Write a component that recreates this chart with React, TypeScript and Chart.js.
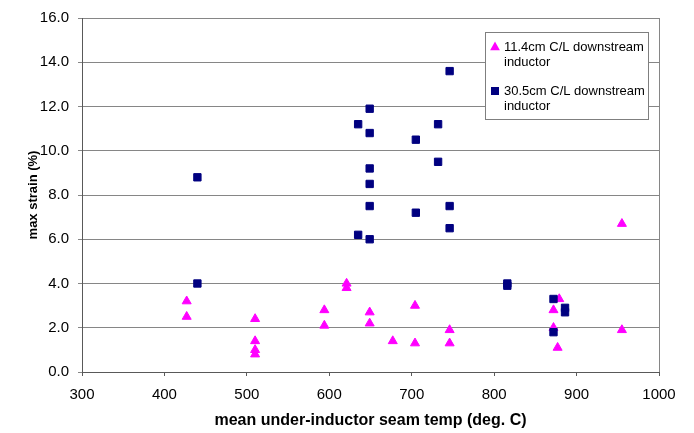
import React, { useEffect, useRef } from "react";
import { Chart, registerables } from "chart.js";

Chart.register(...registerables);

// ---- data ----
const seriesNames = ["11.4cm C/L downstream inductor", "30.5cm C/L downstream inductor"];
const seriesColors = ["#FF00FF", "#000080"];

const tempsA = [427, 427, 510, 510, 510, 510, 594, 594, 621, 621, 649, 649, 677, 704, 704, 746, 746, 872, 872, 877, 879, 955, 955];
const strainA = [3.2, 2.5, 2.4, 1.4, 1.0, 0.8, 2.8, 2.1, 4.0, 3.8, 2.7, 2.2, 1.4, 3.0, 1.3, 1.9, 1.3, 2.8, 2.0, 1.1, 3.3, 6.7, 1.9];

const tempsB = [440, 440, 635, 635, 649, 649, 649, 649, 649, 649, 705, 705, 732, 732, 746, 746, 746, 816, 816, 872, 872, 886, 886];
const strainB = [8.8, 4.0, 11.2, 6.2, 11.9, 10.8, 9.2, 8.5, 7.5, 6.0, 10.5, 7.2, 11.2, 9.5, 13.6, 7.5, 6.5, 4.0, 3.9, 3.3, 1.8, 2.9, 2.7];

const xMin = 300;
const xMax = 1000;
const xStep = 100;
const yMin = 0;
const yMax = 16;
const yStep = 2;

const xTitle = "mean under-inductor seam temp (deg. C)";
const yTitle = "max strain (%)";

const FONT = "'Liberation Sans', Arial, sans-serif";

function wrapText(ctx: CanvasRenderingContext2D, text: string, maxW: number): string[] {
  const words = text.split(" ");
  const lines: string[] = [];
  let cur = "";
  for (const w of words) {
    const t = cur ? cur + " " + w : w;
    if (ctx.measureText(t).width > maxW && cur) {
      lines.push(cur);
      cur = w;
    } else cur = t;
  }
  if (cur) lines.push(cur);
  return lines;
}

const framePlugin = {
  id: "frame",
  beforeDatasetsDraw(chart: any) {
    const { ctx, chartArea } = chart;
    ctx.save();
    ctx.strokeStyle = "#868686";
    ctx.lineWidth = 1;
    ctx.beginPath();
    ctx.moveTo(Math.round(chartArea.right) + 0.5, chartArea.top);
    ctx.lineTo(Math.round(chartArea.right) + 0.5, chartArea.bottom);
    ctx.stroke();
    ctx.restore();
  },
};

const legendPlugin = {
  id: "boxLegend",
  afterDraw(chart: any) {
    const { ctx, chartArea } = chart;
    const boxRight = chartArea.right - 11;
    const boxLeft = boxRight - 163;
    const boxTop = chartArea.top + 14;
    const boxBottom = boxTop + 87;
    ctx.save();
    ctx.fillStyle = "#ffffff";
    ctx.fillRect(boxLeft, boxTop, boxRight - boxLeft, boxBottom - boxTop);
    ctx.strokeStyle = "#7f7f7f";
    ctx.lineWidth = 1;
    ctx.strokeRect(Math.round(boxLeft) + 0.5, Math.round(boxTop) + 0.5, boxRight - boxLeft, boxBottom - boxTop);
    ctx.font = `13px ${FONT}`;
    ctx.textBaseline = "middle";
    ctx.textAlign = "left";
    const datasets = chart.data.datasets;
    const order = [0, 1];
    order.forEach((di, i) => {
      const ds = datasets.find((d: any) => d.legendIndex === di);
      const cy = boxTop + 15 + i * 44;
      const mx = boxLeft + 10;
      ctx.fillStyle = ds.backgroundColor;
      ctx.beginPath();
      if (ds.pointStyle === "triangle") {
        const r = 5.4;
        ctx.moveTo(mx, cy - r);
        ctx.lineTo(mx + r * 0.9, cy + r * 0.6);
        ctx.lineTo(mx - r * 0.9, cy + r * 0.6);
        ctx.closePath();
      } else {
        ctx.rect(mx - 4, cy - 4, 8, 8);
      }
      ctx.fill();
      ctx.fillStyle = "#000";
      const lines = wrapText(ctx, ds.label, 142);
      lines.forEach((ln, k) => ctx.fillText(ln, boxLeft + 19, cy + k * 15));
    });
    ctx.restore();
  },
};

export default function App() {
  const ref = useRef<HTMLCanvasElement>(null);
  useEffect(() => {
    if (!ref.current) return;
    const chart = new Chart(ref.current, {
      type: "scatter",
      data: {
        datasets: [
          {
            label: seriesNames[0],
            legendIndex: 0,
            data: tempsA.map((t, i) => ({ x: t, y: strainA[i] })),
            pointStyle: "triangle",
            backgroundColor: seriesColors[0],
            borderColor: seriesColors[0],
            pointRadius: 5.2,
            pointBorderWidth: 1,
            order: 1,
          } as any,
          {
            label: seriesNames[1],
            legendIndex: 1,
            data: tempsB.map((t, i) => ({ x: t, y: strainB[i] })),
            pointStyle: "rect",
            backgroundColor: seriesColors[1],
            borderColor: seriesColors[1],
            pointRadius: 5.2,
            pointBorderWidth: 1,
            order: 0,
          } as any,
        ],
      },
      options: {
        responsive: false,
        animation: false,
        layout: { padding: { top: 15, right: 35, left: 0, bottom: 0 } },
        plugins: {
          legend: { display: false },
          tooltip: { enabled: false },
        },
        scales: {
          x: {
            type: "linear",
            min: xMin,
            max: xMax,
            ticks: {
              stepSize: xStep,
              color: "#000",
              font: { family: FONT, size: 15 },
              padding: 10,
              maxRotation: 0,
              callback: (v: any) => String(v),
            },
            grid: {
              drawOnChartArea: false,
              drawTicks: true,
              tickLength: 4,
              color: "#595959",
            },
            border: { color: "#595959", width: 1 },
            title: {
              display: true,
              text: xTitle,
              color: "#000",
              font: { family: FONT, size: 16, weight: "bold" },
              padding: { top: 0, bottom: 3 },
            },
            afterFit(scale: any) {
              scale.height = 61;
            },
          },
          y: {
            type: "linear",
            min: yMin,
            max: yMax,
            ticks: {
              stepSize: yStep,
              color: "#000",
              font: { family: FONT, size: 15 },
              padding: 9,
              callback: (v: any) => Number(v).toFixed(1),
            },
            grid: {
              drawTicks: true,
              tickLength: 4,
              color: "#868686",
            },
            border: { color: "#595959", width: 1 },
            title: {
              display: true,
              text: yTitle,
              color: "#000",
              font: { family: FONT, size: 13, weight: "bold" },
              padding: { top: 26, bottom: 0 },
            },
            afterFit(scale: any) {
              scale.width = 82;
            },
          },
        },
      } as any,
      plugins: [framePlugin, legendPlugin],
    });
    return () => chart.destroy();
  }, []);
  return (
    <div style={{ position: "fixed", left: 0, top: 0, width: 694, height: 433, background: "#fff" }}>
      <canvas ref={ref} width={694} height={433} style={{ display: "block", width: 694, height: 433 }} />
    </div>
  );
}
